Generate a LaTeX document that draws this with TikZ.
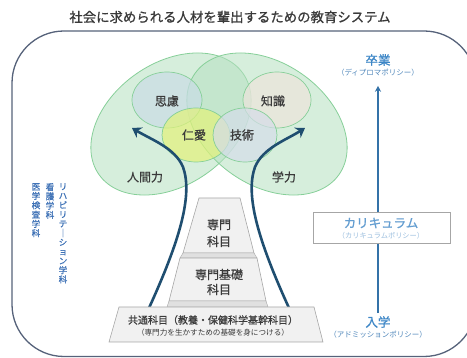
\documentclass[tikz,border=0pt]{standalone}
\usepackage{fontspec}
\setmainfont{Noto Sans CJK JP}
\newfontfamily\heavy[FakeBold=0.9]{Noto Sans CJK JP}
\usetikzlibrary{arrows.meta,positioning}
\definecolor{frameline}{HTML}{56627A}
\definecolor{inkgray}{HTML}{3A3A3A}
\definecolor{leafgreen}{HTML}{B5E0C0}
\definecolor{leafline}{HTML}{86CF98}
\definecolor{shiryofill}{HTML}{C9DCE6}
\definecolor{chishikifill}{HTML}{EDE4DC}
\definecolor{jinaifill}{HTML}{E3F27A}
\definecolor{gijutsufill}{HTML}{D5DDE9}
\definecolor{stemblue}{HTML}{1F4E70}
\definecolor{tierfill}{HTML}{F1F1F1}
\definecolor{tierline}{HTML}{A6A6A6}
\definecolor{ledgefill}{HTML}{E0E0E0}
\definecolor{policyblue}{HTML}{3D86C6}
\definecolor{noteblue}{HTML}{4F86BA}
\definecolor{curnote}{HTML}{9CBFDF}
\definecolor{deptblue}{HTML}{3F72B6}
\tikzset{
    lobe/.style={fill=leafgreen, fill opacity=0.55, draw=leafline, line width=0.8pt},
    bubble/.style={fill=#1, fill opacity=0.7, draw=leafline, line width=0.7pt},
    leaflabel/.style={text=inkgray, font=\heavy\fontsize{12}{14}\selectfont, inner sep=0pt},
    stem/.style={draw=stemblue, line width=2.6pt, -{Stealth[length=9pt,width=12pt]}},
    tier/.style={fill=tierfill, draw=tierline, line width=0.6pt},
    ledge/.style={fill=ledgefill, draw=tierline, line width=0.4pt},
    tierlabel/.style={text=inkgray, align=center, inner sep=0pt},
    policy/.style={text=policyblue, font=\heavy\fontsize{12.5}{14}\selectfont, inner sep=0pt},
    policynote/.style={text=noteblue, font=\fontsize{7.5}{9}\selectfont, inner sep=0pt},
    dept/.style={text=deptblue, anchor=north, align=center, inner sep=0pt,
        font=\heavy\fontsize{8.6}{9.3}\selectfont},
}
\begin{document}
\begin{tikzpicture}[x=1pt,y=-1pt]
				  %coordinates in pixels, y pointing down
				  \useasboundingbox (0,0) rectangle (467,358);
				  \node[text=inkgray, font=\heavy\fontsize{13.4}{15}\selectfont, inner sep=0pt] (title) at (230,17) {社会に求められる人材を輩出するための教育システム};
				  \draw[frameline, line width=1.3pt, rounded corners=52pt] (12,31) rectangle (476,356.5);

				  %leaves
				  \coordinate(lobeL) at (171,124);
				  \coordinate(lobeR) at (267,124);
				  \begin{scope}[rotate around={35:(lobeL)}]
				  \path[lobe] (lobeL) ellipse [x radius=88, y radius=61];
				  \end{scope}
				  \begin{scope}[rotate around={-35:(lobeR)}]
				  \path[lobe] (lobeR) ellipse [x radius=88, y radius=61];
				  \end{scope}
				  \path[bubble=shiryofill] (167,100) ellipse [x radius=35, y radius=28];
				  \path[bubble=chishikifill] (277,100) ellipse [x radius=34, y radius=28];
				  \path[bubble=jinaifill] (196,135) ellipse [x radius=34, y radius=27];
				  \path[bubble=gijutsufill] (245,135) ellipse [x radius=32, y radius=27];
				  \node[leaflabel] (shiryo) at (167,101) {思慮};
				  \node[leaflabel] (chishiki) at (273,101) {知識};
				  \node[leaflabel] (jinai) at (194,135) {仁愛};
				  \node[leaflabel] (gijutsu) at (242,135) {技術};
				  \node[leaflabel] (ningen) at (145,177) {人間力};
				  \node[leaflabel] (gakuryoku) at (284,177) {学力};

				  %stems
				  \coordinate(rootL) at (149,308);
				  \coordinate(tipL) at (132,128);
				  \coordinate(rootR) at (289,308);
				  \coordinate(tipR) at (305,128);
				  \draw[stem] (rootL) .. controls (180,240) and (193,195) .. (183,167) .. controls (175,148) and (152,140) .. (tipL);
				  \draw[stem] (rootR) .. controls (258,240) and (245,195) .. (255,167) .. controls (263,148) and (286,140) .. (tipR);

				  %subjects
				  \draw[tier] (199,198) -- (240,198) -- (254,253) -- (183,253) -- cycle;
				  \draw[ledge] (183,253) -- (254,253) -- (257,258) -- (180,258) -- cycle;
				  \draw[tier] (180,258) -- (257,258) -- (266,301) -- (169,301) -- cycle;
				  \draw[ledge] (169,301) -- (266,301) -- (268,307) -- (167,307) -- cycle;
				  \draw[tier] (119,307) -- (314,307) -- (323,342) -- (109,342) -- cycle;
				  \node[tierlabel, font=\heavy\fontsize{12}{17}\selectfont] (senmon) at (219,233) {専門\\科目};
				  \node[tierlabel, font=\heavy\fontsize{12}{15}\selectfont] (kiso) at (219,282) {専門基礎\\科目};
				  \node[tierlabel, font=\heavy\fontsize{10}{12}\selectfont] (kyotsu) at (213,320) {共通科目（教養・保健科学基幹科目）};
				  \node[tierlabel, font=\fontsize{7.6}{9}\selectfont] (kyotsunote) at (213,333) {（専門力を生かすための基礎を身につける）};

				  %policies
				  \node[policy] (grad) at (378,60) {卒業};
				  \node[policynote] (gradnote) at (378,73) {（ディプロマポリシー）};
				  \node[policy] (adm) at (378,322) {入学};
				  \node[policynote] (admnote) at (378,335) {（アドミッションポリシー）};
				  \draw[draw=policyblue!85!black, line width=1.4pt, -{Stealth[length=6pt,width=6pt]}, shorten <=3pt, shorten >=9pt] (adm.north) -- (gradnote.south);
				  \node[fill=white, draw=tierline, line width=0.6pt, minimum width=137pt, minimum height=31pt, inner sep=0pt] (cur) at (381.5,227.5) {};
				  \node[policy, text=policyblue!80!white] (curname) at (381,223) {カリキュラム};
				  \node[policynote, text=curnote, font=\fontsize{7.2}{9}\selectfont] (curnote) at (381,236) {（カリキュラムポリシー）};

				  %departments
				  \node[dept] (reha) at (63,183) {リ\\ハ\\ビ\\リ\\テ\\｜\\シ\\ョ\\ン\\学\\科};
				  \node[dept] (kango) at (50,183) {看\\護\\学\\科};
				  \node[dept] (kensa) at (36,183) {医\\学\\検\\査\\学\\科};
				  \end{tikzpicture}
\end{document}
